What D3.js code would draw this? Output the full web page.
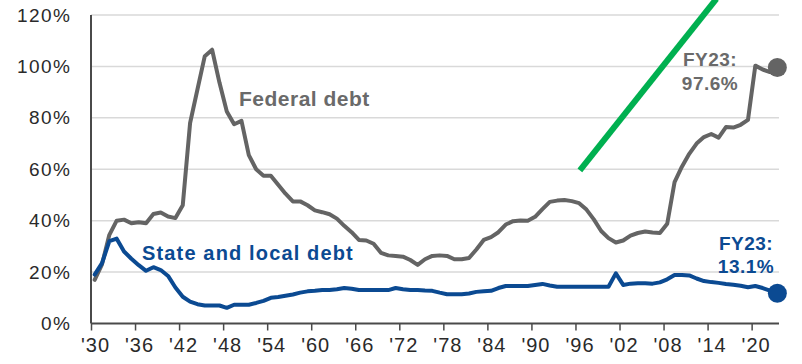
<!DOCTYPE html>
<html>
<head>
<meta charset="utf-8">
<script src="https://cdn.jsdelivr.net/npm/d3@7"></script>
<style>
  html, body { margin: 0; padding: 0; background: #ffffff; }
  svg { display: block; font-family: "Liberation Sans", Arial, sans-serif; }
</style>
</head>
<body>
<svg id="chart" width="802" height="364"></svg>
<script>
// ---- data ----
const firstYear = 1930;
const lastYear = 2023;
const years = d3.range(firstYear, lastYear + 1);

// Federal debt held by public, % of GDP (1930 .. 2023)
const federalDebt = [
  17, 23, 34.5, 40, 40.4, 39, 39.4, 39, 42.6, 43.2,          // 1930s
  41.6, 41, 46, 78, 91, 104, 106.5, 93.7, 82.5, 77.5,        // 1940s
  78.8, 65.5, 60, 57.5, 57.5, 54, 50.5, 47.5, 47.5, 46,      // 1950s
  44, 43.3, 42.5, 40.8, 38, 35.5, 32.5, 32.3, 31, 27.5,      // 1960s
  26.5, 26.3, 26, 24.7, 22.8, 25, 26.3, 26.5, 26.3, 25,      // 1970s
  25, 25.5, 28.8, 32.5, 33.6, 35.5, 38.5, 39.8, 40.1, 40,    // 1980s
  41.5, 44.5, 47.3, 47.8, 48, 47.6, 46.8, 44.3, 40.5, 36,    // 1990s
  33.2, 31.5, 32.3, 34.2, 35.2, 35.8, 35.4, 35.2, 38.8, 55,  // 2000s
  61, 66, 70, 72.5, 73.7, 72.3, 76.4, 76.2, 77.3, 79.2,      // 2010s
  100.3, 98.8, 97.8, 99.6                                    // 2020-2023
];

// State and local debt, % of GDP (1930 .. 2023)
const stateLocalDebt = [
  19, 23.5, 32, 33, 28, 25.2, 22.7, 20.5, 21.9, 20.8,        // 1930s
  18.5, 14, 10.4, 8.5, 7.5, 7, 7, 7, 6.1, 7.3,               // 1940s
  7.3, 7.3, 8, 8.8, 10, 10.3, 10.8, 11.3, 12, 12.5,          // 1950s
  12.7, 13, 13, 13.3, 13.8, 13.5, 13, 13, 13, 13,            // 1960s
  13, 13.8, 13.3, 13, 13, 12.8, 12.7, 12, 11.4, 11.4,        // 1970s
  11.4, 11.7, 12.3, 12.5, 12.7, 13.8, 14.6, 14.6, 14.6, 14.6,// 1980s
  15, 15.4, 14.8, 14.3, 14.3, 14.3, 14.3, 14.3, 14.3, 14.3,  // 1990s
  14.3, 19.5, 15, 15.5, 15.7, 15.7, 15.5, 16, 17.2, 18.9,    // 2000s
  18.9, 18.7, 17.5, 16.5, 16.1, 15.8, 15.4, 15.1, 14.7, 14.1,// 2010s
  14.6, 13.8, 12.8, 11.8                                     // 2020-2023
];

const xTickYears = d3.range(1930, 2021, 6);
const yTickValues = [0, 20, 40, 60, 80, 100, 120];

const seriesLabels = ["Federal debt", "State and local debt"];
const endLabelFederal = ["FY23:", "97.6%"];
const endLabelState = ["FY23:", "13.1%"];

// green annotation line, in data units (year, %)
const greenLineYears = [1996.6, 2015.2];
const greenLineValues = [59.6, 126.3];

// ---- layout ----
const colors = {
  federal: "#646464",
  federalText: "#6a6a6a",
  state: "#0b4a92",
  grid: "#d9d9d9",
  axis: "#4a4a4a",
  tickText: "#2a2a2a",
  green: "#00b050"
};

const svg = d3.select("#chart");
const plotLeft = 91, plotRight = 781, plotTop = 15, plotBottom = 323.5;

const x = d3.scaleLinear().domain([firstYear, lastYear + 1]).range([plotLeft, plotRight]);
const y = d3.scaleLinear().domain([0, 120]).range([plotBottom, plotTop]);
const px = yr => x(yr + 0.5); // points sit at the centre of each year slot

// gridlines
svg.append("g").selectAll("line")
  .data(yTickValues.filter(v => v > 0))
  .join("line")
  .attr("x1", plotLeft).attr("x2", plotRight - 2)
  .attr("y1", d => y(d)).attr("y2", d => y(d))
  .attr("stroke", colors.grid).attr("stroke-width", 1.5);

// y axis labels
const yAxis = d3.axisLeft(y).tickValues(yTickValues).tickSize(0).tickPadding(19.5)
  .tickFormat(d => d + "%");
const gy = svg.append("g").attr("transform", `translate(${plotLeft},0)`).call(yAxis);
gy.select(".domain").remove();
gy.selectAll("text").attr("font-size", 19).attr("letter-spacing", 1.5).attr("fill", colors.tickText)
  .attr("font-family", "Liberation Sans, Arial, sans-serif");

// x axis
const xAxis = d3.axisBottom(x).tickValues(xTickYears).tickSize(7).tickSizeOuter(0).tickPadding(7)
  .tickFormat(d => "'" + String(d).slice(2));
const gx = svg.append("g").attr("transform", `translate(0,${plotBottom})`).call(xAxis);
gx.select(".domain").attr("stroke", colors.axis).attr("stroke-width", 2)
  .attr("d", `M${plotLeft},0H${plotRight - 2}`);
gx.selectAll(".tick line").attr("stroke", colors.axis).attr("stroke-width", 1.5);
gx.selectAll("text").attr("font-size", 20).attr("letter-spacing", 1).attr("fill", colors.tickText)
  .attr("font-family", "Liberation Sans, Arial, sans-serif").attr("dx", 4);

// left axis line
svg.append("line")
  .attr("x1", plotLeft).attr("x2", plotLeft)
  .attr("y1", y(120)).attr("y2", plotBottom)
  .attr("stroke", colors.axis).attr("stroke-width", 2);

// lines
const lineGen = d3.line()
  .x((d, i) => px(years[i]))
  .y(d => y(d));

svg.append("path").datum(federalDebt)
  .attr("d", lineGen).attr("fill", "none")
  .attr("stroke", colors.federal).attr("stroke-width", 4)
  .attr("stroke-linejoin", "round").attr("stroke-linecap", "round");

svg.append("path").datum(stateLocalDebt)
  .attr("d", lineGen).attr("fill", "none")
  .attr("stroke", colors.state).attr("stroke-width", 4)
  .attr("stroke-linejoin", "round").attr("stroke-linecap", "round");

// end markers
const lastIdx = years.length - 1;
svg.append("circle")
  .attr("cx", px(years[lastIdx])).attr("cy", y(federalDebt[lastIdx])).attr("r", 9.5)
  .attr("fill", colors.federal);
svg.append("circle")
  .attr("cx", px(years[lastIdx])).attr("cy", y(stateLocalDebt[lastIdx])).attr("r", 9.5)
  .attr("fill", colors.state);

// series labels
svg.append("text").text(seriesLabels[0])
  .attr("x", 239).attr("y", 105.5)
  .attr("font-size", 21).attr("font-weight", "bold").attr("letter-spacing", 0.5)
  .attr("fill", colors.federalText);
svg.append("text").text(seriesLabels[1])
  .attr("x", 142).attr("y", 259.5)
  .attr("font-size", 20).attr("font-weight", "bold").attr("letter-spacing", 1.15)
  .attr("fill", colors.state);

// end labels
const endFed = svg.append("text").attr("text-anchor", "middle")
  .attr("font-size", 19).attr("font-weight", "bold").attr("letter-spacing", 0.5)
  .attr("fill", colors.federalText);
endFed.selectAll("tspan").data(endLabelFederal).join("tspan")
  .attr("x", 710).attr("y", (d, i) => 66 + i * 24).text(d => d);

const endState = svg.append("text").attr("text-anchor", "middle")
  .attr("font-size", 19).attr("font-weight", "bold").attr("letter-spacing", 0.5)
  .attr("fill", colors.state);
endState.selectAll("tspan").data(endLabelState).join("tspan")
  .attr("x", 746).attr("y", (d, i) => 250 + i * 23).text(d => d);

// green annotation line
svg.append("line")
  .attr("x1", x(greenLineYears[0])).attr("y1", y(greenLineValues[0]))
  .attr("x2", x(greenLineYears[1])).attr("y2", y(greenLineValues[1]))
  .attr("stroke", colors.green).attr("stroke-width", 6);
</script>
</body>
</html>
